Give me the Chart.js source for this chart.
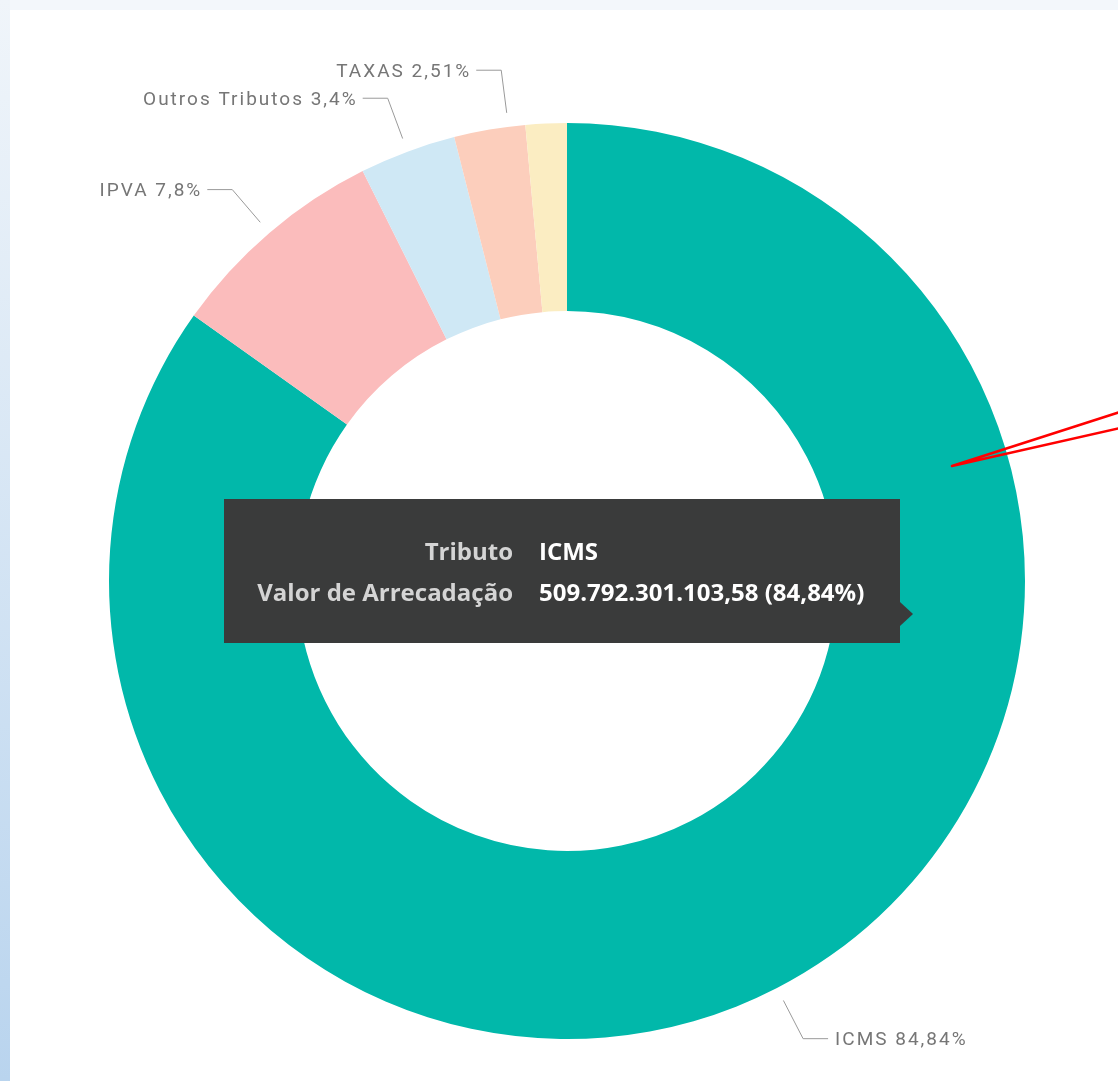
<!DOCTYPE html>
<html><head><meta charset="utf-8">
<script src="https://cdn.jsdelivr.net/npm/chart.js@4/dist/chart.umd.min.js"></script>
<style>
html,body{margin:0;padding:0;width:1118px;height:1081px;overflow:hidden;background:#f3f7fb;}
#strip{position:absolute;left:0;top:0;width:10px;height:1081px;background:linear-gradient(#f0f5fa,#b9d4ee);}
#card{position:absolute;left:10px;top:10px;right:0;bottom:0;background:#fff;}
#wrap{position:absolute;left:0;top:0;width:1118px;height:1081px;}
</style></head><body>
<div id="strip"></div><div id="card"></div>
<div id="wrap"><canvas id="c" width="1118" height="1081"></canvas></div>
<script>
// ---- data ----
const categorias = ['ICMS', 'IPVA', 'Outros Tributos', 'TAXAS', 'ITCD'];
const percentuais = [84.84, 7.8, 3.4, 2.51, 1.45];
const rotuloVisivel = [true, true, true, true, false];
const tooltipCampos = ['Tributo', 'Valor de Arrecadação'];
const tooltipTributo = 'ICMS';
const tooltipValor = '509.792.301.103,58';

// ---- styles ----
const cores = ['#01B8AA', '#FBBCBC', '#CFE8F5', '#FCCEBC', '#FBEDC2'];
const ajusteAngulo = { 'TAXAS': 2.4 }; // degrees, label nudge
const fmtPct = v => v.toLocaleString('pt-BR', { maximumFractionDigits: 2 }) + '%';

const labelsPlugin = {
  id: 'labelsPlugin',
  afterDraw(chart) {
    const ctx = chart.ctx;
    const meta = chart.getDatasetMeta(0);
    ctx.save();
    ctx.font = '19px Roboto';
    ctx.letterSpacing = '2px';
    ctx.fillStyle = '#767676';
    ctx.strokeStyle = '#9a9a9a';
    ctx.lineWidth = 1;
    ctx.textBaseline = 'middle';
    meta.data.forEach((arc, i) => {
      if (!rotuloVisivel[i]) return;
      const p = arc.getProps(['x', 'y', 'startAngle', 'endAngle', 'outerRadius'], true);
      let mid = (p.startAngle + p.endAngle) / 2;
      if (ajusteAngulo[categorias[i]]) mid += ajusteAngulo[categorias[i]] * Math.PI / 180;
      const c = Math.cos(mid), s = Math.sin(mid);
      const r1 = p.outerRadius + 14, r2 = p.outerRadius + 57;
      const x1 = p.x + c * r1, y1 = p.y + s * r1;
      const x2 = p.x + c * r2, y2 = p.y + s * r2;
      const side = c >= 0 ? 1 : -1;
      const x3 = x2 + side * 25;
      ctx.beginPath();
      ctx.moveTo(x1, y1); ctx.lineTo(x2, y2); ctx.lineTo(x3, y2);
      ctx.stroke();
      ctx.textAlign = side > 0 ? 'left' : 'right';
      ctx.fillText(categorias[i] + ' ' + fmtPct(percentuais[i]), x3 + side * 7 + (side < 0 ? 2 : 0), y2 + 2);
    });
    ctx.restore();

    // tooltip for ICMS
    const idx = categorias.indexOf(tooltipTributo);
    const arc = meta.data[idx].getProps(['x', 'y'], true);
    const cx = arc.x, cy = arc.y;
    const bx = cx - 343, by = cy - 82, bw = 676, bh = 144;
    ctx.save();
    ctx.fillStyle = '#3a3b3b';
    ctx.fillRect(bx, by, bw, bh);
    ctx.beginPath();
    ctx.moveTo(bx + bw, cy + 21);
    ctx.lineTo(bx + bw + 13, cy + 33);
    ctx.lineTo(bx + bw, cy + 45);
    ctx.closePath();
    ctx.fill();
    ctx.font = 'bold 24px "Open Sans"';
    ctx.textBaseline = 'middle';
    const colX = cx - 54;
    ctx.textAlign = 'right';
    ctx.fillStyle = '#d4d4d4';
    ctx.fillText(tooltipCampos[0], colX, cy - 28);
    ctx.fillText(tooltipCampos[1], colX, cy + 13);
    ctx.textAlign = 'left';
    ctx.fillStyle = '#ffffff';
    ctx.fillText(tooltipTributo, colX + 26, cy - 28);
    ctx.fillText(tooltipValor + ' (' + fmtPct(percentuais[idx]) + ')', colX + 26, cy + 13);

    // red annotation arrow
    ctx.strokeStyle = '#ff0000';
    ctx.lineWidth = 2.5;
    ctx.lineCap = 'round';
    const ax = cx + 385, ay = cy - 115;
    ctx.beginPath();
    ctx.moveTo(ax, ay); ctx.lineTo(chart.width + 2, cy - 169);
    ctx.moveTo(ax, ay); ctx.lineTo(chart.width + 2, cy - 153);
    ctx.stroke();
    ctx.restore();
  }
};

new Chart(document.getElementById('c'), {
  type: 'doughnut',
  data: {
    labels: categorias,
    datasets: [{
      data: percentuais,
      backgroundColor: cores,
      borderWidth: 0,
      radius: 458,
      cutout: '58.95%'
    }]
  },
  options: {
    responsive: false,
    animation: false,
    layout: { padding: { left: 66, right: 50, top: 111, bottom: 30 } },
    plugins: { legend: { display: false }, tooltip: { enabled: false } },
    events: []
  },
  plugins: [labelsPlugin]
});
</script>
</body></html>
